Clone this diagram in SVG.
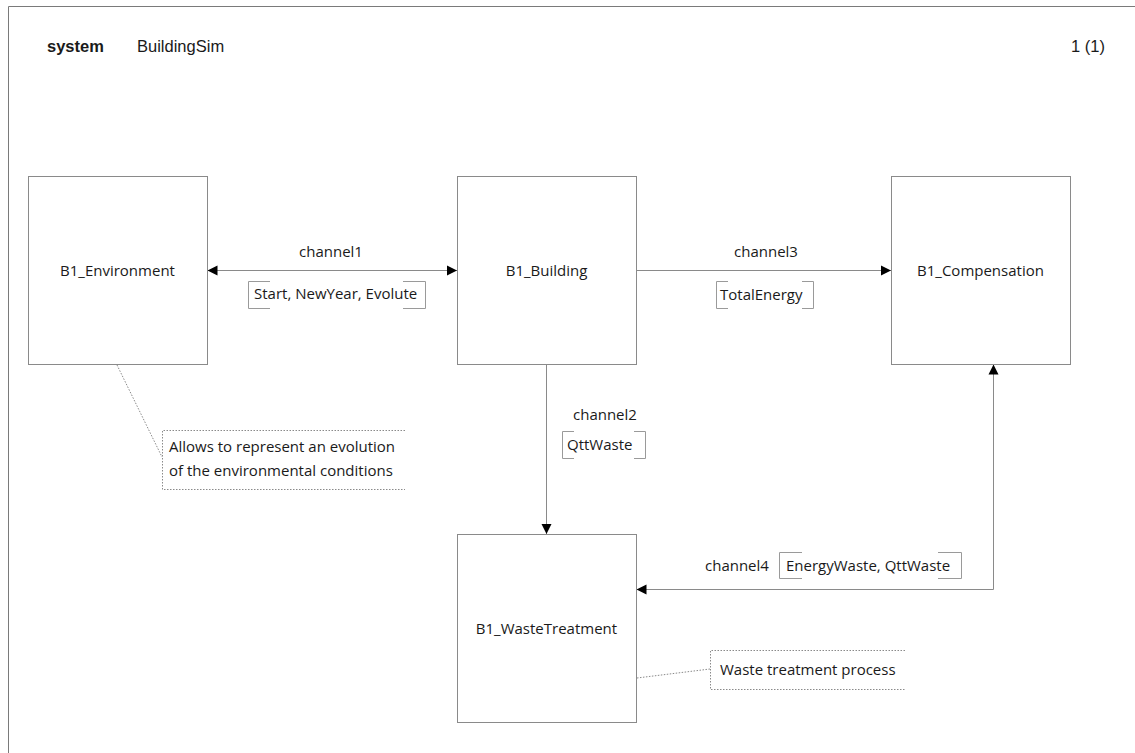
<svg xmlns="http://www.w3.org/2000/svg" width="1135" height="753" viewBox="0 0 1135 753">
<style>
.frame{fill:none;stroke:#7a7a7a;stroke-width:1}
.box{fill:#fff;stroke:#8a8a8a;stroke-width:1}
.conn{fill:none;stroke:#8a8a8a;stroke-width:1}
.brk{fill:none;stroke:#9a9a9a;stroke-width:1}
.note{fill:none;stroke:#8a8a8a;stroke-width:1;stroke-dasharray:1.5 1.5}
.t{font-family:"Open Sans","Noto Sans",sans-serif;font-size:15px;fill:#1a1a1a}
.h{font-family:"Liberation Sans",Arial,sans-serif;font-size:16.5px;fill:#1a1a1a}
.mid{text-anchor:middle}
</style>
<defs>
<marker id="arr" viewBox="0 0 10 10" refX="10" refY="5" markerWidth="10" markerHeight="11" orient="auto-start-reverse" markerUnits="userSpaceOnUse">
<path d="M0,0 L10,5 L0,10 z" fill="#000"/>
</marker>
</defs>
<g id="frame">
<path class="frame" d="M8.5,753 V6.5 H1135"/>
<text class="h" x="47" y="52" font-weight="bold">system</text>
<text class="h" x="137" y="52">BuildingSim</text>
<text class="h" x="1071" y="52">1 (1)</text>
</g>
<g id="connectors">
<g id="channel1">
<line class="conn" x1="207.5" y1="270.5" x2="457" y2="270.5" marker-start="url(#arr)" marker-end="url(#arr)"/>
<text class="t mid" x="331" y="257">channel1</text>
<path class="brk" d="M270,281.5 H248.5 V308.5 H270 M403,281.5 H425.5 V308.5 H403"/>
<text class="t" x="254" y="299">Start, NewYear, Evolute</text>
</g>
<g id="channel3">
<line class="conn" x1="636.5" y1="270.5" x2="891" y2="270.5" marker-end="url(#arr)"/>
<text class="t mid" x="766" y="257">channel3</text>
<path class="brk" d="M728,281.5 H716.5 V308.5 H728 M802,281.5 H813.5 V308.5 H802"/>
<text class="t" x="720" y="300">TotalEnergy</text>
</g>
<g id="channel2">
<line class="conn" x1="546.5" y1="364.5" x2="546.5" y2="534" marker-end="url(#arr)"/>
<text class="t" x="573" y="420">channel2</text>
<path class="brk" d="M574,431.5 H562.5 V458.5 H574 M634,431.5 H645.5 V458.5 H634"/>
<text class="t" x="567" y="450">QttWaste</text>
</g>
<g id="channel4">
<path class="conn" d="M636.5,589.5 H993.5 V364.5" marker-start="url(#arr)" marker-end="url(#arr)"/>
<text class="t" x="705" y="571">channel4</text>
<path class="brk" d="M802,552.5 H779.5 V578.5 H802 M938,552.5 H961.5 V578.5 H938"/>
<text class="t" x="786" y="571">EnergyWaste, QttWaste</text>
</g>
</g>
<g id="B1_Environment">
<rect class="box" x="28.5" y="176.5" width="179" height="188"/>
<text class="t mid" x="117.5" y="276">B1_Environment</text>
</g>
<g id="B1_Building">
<rect class="box" x="457.5" y="176.5" width="179" height="188"/>
<text class="t mid" x="546.5" y="276">B1_Building</text>
</g>
<g id="B1_Compensation">
<rect class="box" x="891.5" y="176.5" width="179" height="188"/>
<text class="t mid" x="980.5" y="276">B1_Compensation</text>
</g>
<g id="B1_WasteTreatment">
<rect class="box" x="457.5" y="534.5" width="179" height="188"/>
<text class="t mid" x="546.5" y="634">B1_WasteTreatment</text>
</g>
<g id="note_environment">
<path class="note" d="M117,365 L162,457"/>
<path class="note" d="M405,430.5 H162.5 V489.5 H405"/>
<text class="t" x="169" y="452">Allows to represent an evolution</text>
<text class="t" x="169" y="476">of the environmental conditions</text>
</g>
<g id="note_waste">
<path class="note" d="M637,678 L710,669"/>
<path class="note" d="M905,650.5 H710.5 V689.5 H905"/>
<text class="t" x="720" y="675">Waste treatment process</text>
</g>
</svg>
